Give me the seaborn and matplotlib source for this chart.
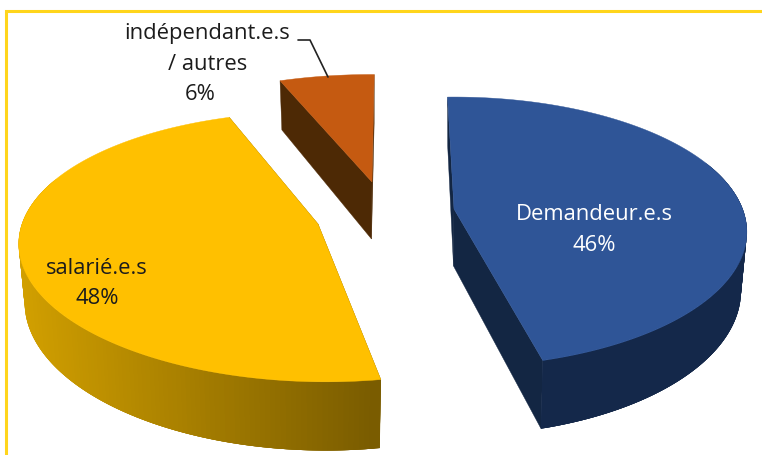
import numpy as np
import matplotlib
matplotlib.use("Agg")
import matplotlib.pyplot as plt
from matplotlib.colors import LinearSegmentedColormap
import seaborn as sns

categories = ["Demandeur.e.s", "salarié.e.s", "indépendant.e.s\n/ autres"]
shares = [46, 48, 6]
top_colors = ["#2F5597", "#FFC000", "#C55A11"]
cut_colors = ["#132643", "#806000", "#4D2905"]
wall_left = ["#14284A", "#D2A000", "#4D2905"]
wall_right = ["#14284A", "#7A5C00", "#4D2905"]
centers = [(454, 210), (318, 225), (372, 183)]
nudge = [0.5, -6.5, -1.5]
trim_low = [-1.0, 3.0, 0.0]
x_scale = [0.975, 1.0, 1.0]
y_scale = [1.0, 1.0, 0.96]
skew = [0.0, 0.05, 0.0]

A, B, K, D = 296, 131, 0.17, 57
SHRINK = 0.98  # the lower face recedes slightly

sns.set_theme(style="white")
plt.rcParams["font.family"] = ["Open Sans", "DejaVu Sans"]
fig = plt.figure(figsize=(7.62, 4.56), dpi=100, facecolor="white")

probe = fig.add_axes([0, 0, 0.01, 0.01])
wedges, _ = probe.pie(shares, startangle=91, counterclock=False)
angles = [(w.theta1, w.theta2) for w in wedges]
probe.remove()

ax = fig.add_axes([0, 0, 1, 1])
ax.set_xlim(0, 762)
ax.set_ylim(456, 0)
ax.axis("off")


def project(theta, i):
    c = centers[i]
    u, v = np.cos(np.radians(theta)), np.sin(np.radians(theta))
    w = 1 + K * v
    dx, dy = x_scale[i] * A * u / w, -y_scale[i] * B * v / w
    dx = dx + skew[i] * dy
    return c[0] + dx, c[1] + dy, D / w


for i in range(3):
    t1, t2 = angles[i][0] + nudge[i] + trim_low[i], angles[i][1] + nudge[i]
    c = centers[i]
    th = np.linspace(t1, t2, 200)
    x, y, d = project(th, i)
    xb = c[0] + (x - c[0]) * SHRINK
    yb = y + d
    cb = (c[0] - 0.5, c[1] + D)
    cm = LinearSegmentedColormap.from_list("w", [wall_left[i], wall_right[i]])
    x0, x1 = x.min(), x.max()
    for k in (0, -1):
        ax.fill([c[0], x[k], xb[k], cb[0]], [c[1], y[k], yb[k], cb[1]],
                color=cut_colors[i], lw=0.3, zorder=2 + i)
    for j in np.argsort(x):
        if np.sin(np.radians(th[j])) > 0.35:
            continue
        seg = np.arange(max(j - 2, 0), min(j + 3, len(th)))
        col = cm((x[j] - x0) / (x1 - x0))
        ax.fill(np.r_[x[seg], xb[seg][::-1]], np.r_[y[seg], yb[seg][::-1]],
                color=col, lw=0, zorder=3 + i)
    ax.fill(np.r_[c[0], x], np.r_[c[1], y], color=top_colors[i], lw=0.3, zorder=10 + i)

ax.plot([6, 6, 762], [456, 11.5, 11.5], color="#FFD51C", lw=2.2, solid_capstyle="butt",
        solid_joinstyle="miter", zorder=1)
ax.plot([298, 310, 328], [41, 41, 78], color="#222222", lw=1.2, zorder=20)

fs = 15.8
dark = "#1c1c1c"
ax.text(594, 215, "Demandeur.e.s", color="white", fontsize=fs, ha="center", va="center", zorder=30)
ax.text(594, 246, f"{shares[0]}%", color="white", fontsize=fs, ha="center", va="center", zorder=30)
ax.text(97, 269, "salarié.e.s", color=dark, fontsize=fs, ha="center", va="center", zorder=30)
ax.text(97, 299, f"{shares[1]}%", color=dark, fontsize=fs, ha="center", va="center", zorder=30)
ax.text(207, 34, "indépendant.e.s", color=dark, fontsize=fs, ha="center", va="center", zorder=30)
ax.text(208, 64, "/ autres", color=dark, fontsize=fs, ha="center", va="center", zorder=30)
ax.text(200, 95, f"{shares[2]}%", color=dark, fontsize=fs, ha="center", va="center", zorder=30)

fig.savefig("out.png", dpi=100, facecolor="white")
